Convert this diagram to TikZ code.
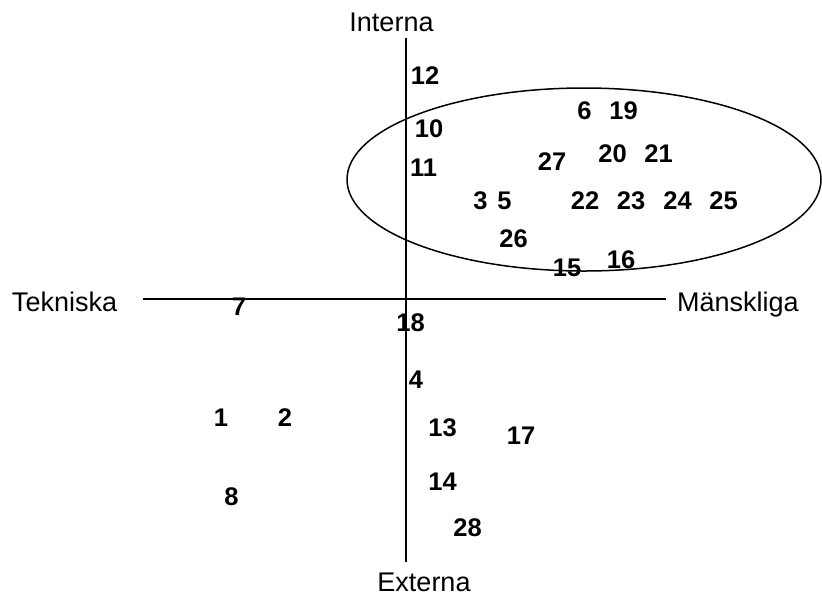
\documentclass[tikz,border=0pt]{standalone}
\usepackage{fontspec}
\setmainfont{Liberation Sans}
\usepackage{tikz}
\newcommand{\nrfont}{\fontsize{25.5}{30}\selectfont\bfseries}
\newcommand{\axfont}{\fontsize{27}{32}\selectfont}
\tikzstyle{nr} = [font=\nrfont, inner sep=0pt]
\tikzstyle{axlabel} = [font=\axfont, inner sep=0pt, anchor=base]
\tikzstyle{axis} = [line width=1.7pt]
\tikzstyle{group} = [line width=1.5pt]

\begin{document}
\begin{tikzpicture}[x=1pt,y=-1pt]
    \useasboundingbox (0,0) rectangle (822,595);
    % axes
    \coordinate (ytop) at (406,38);
    \coordinate (ybot) at (406,562);
    \coordinate (xleft) at (143,299);
    \coordinate (xright) at (666,299);
    \draw[axis] (ytop) -- (ybot);
    \draw[axis] (xleft) -- (xright);
    \node[axlabel] (interna) at (391.5,31) {Interna};
    \node[axlabel] (externa) at (424,591) {Externa};
    \node[axlabel] (tekniska) at (64.5,311) {Tekniska};
    \node[axlabel] (manskliga) at (738,311) {Mänskliga};
    % cluster
    \draw[group] (584,179.5) ellipse [x radius=237, y radius=91.5];
    \node[nr] (n12) at (425,76) {12};
    \node[nr] (n10) at (429,129) {10};
    \node[nr] (n11) at (423.5,168) {11};
    \node[nr] (n6) at (584.5,111) {6};
    \node[nr] (n19) at (623.5,111) {19};
    \node[nr] (n27) at (552,161.5) {27};
    \node[nr] (n20) at (612.5,153.5) {20};
    \node[nr] (n21) at (658.5,153.5) {21};
    \node[nr] (n3) at (480.5,201) {3};
    \node[nr] (n5) at (504.5,201) {5};
    \node[nr] (n22) at (585,201) {22};
    \node[nr] (n23) at (631,201) {23};
    \node[nr] (n24) at (677.5,201) {24};
    \node[nr] (n25) at (723.5,201) {25};
    \node[nr] (n26) at (513.5,238.5) {26};
    \node[nr] (n15) at (567,267.5) {15};
    \node[nr] (n16) at (621,260) {16};
    % outside
    \node[nr] (n7) at (239,306.5) {7};
    \node[nr] (n18) at (410.5,323) {18};
    \node[nr] (n4) at (416,380) {4};
    \node[nr] (n1) at (221,417.5) {1};
    \node[nr] (n2) at (285,417.5) {2};
    \node[nr] (n13) at (442.5,428) {13};
    \node[nr] (n17) at (521,436) {17};
    \node[nr] (n14) at (442.5,482) {14};
    \node[nr] (n8) at (231.5,497) {8};
    \node[nr] (n28) at (467.5,528) {28};
\end{tikzpicture}
\end{document}
